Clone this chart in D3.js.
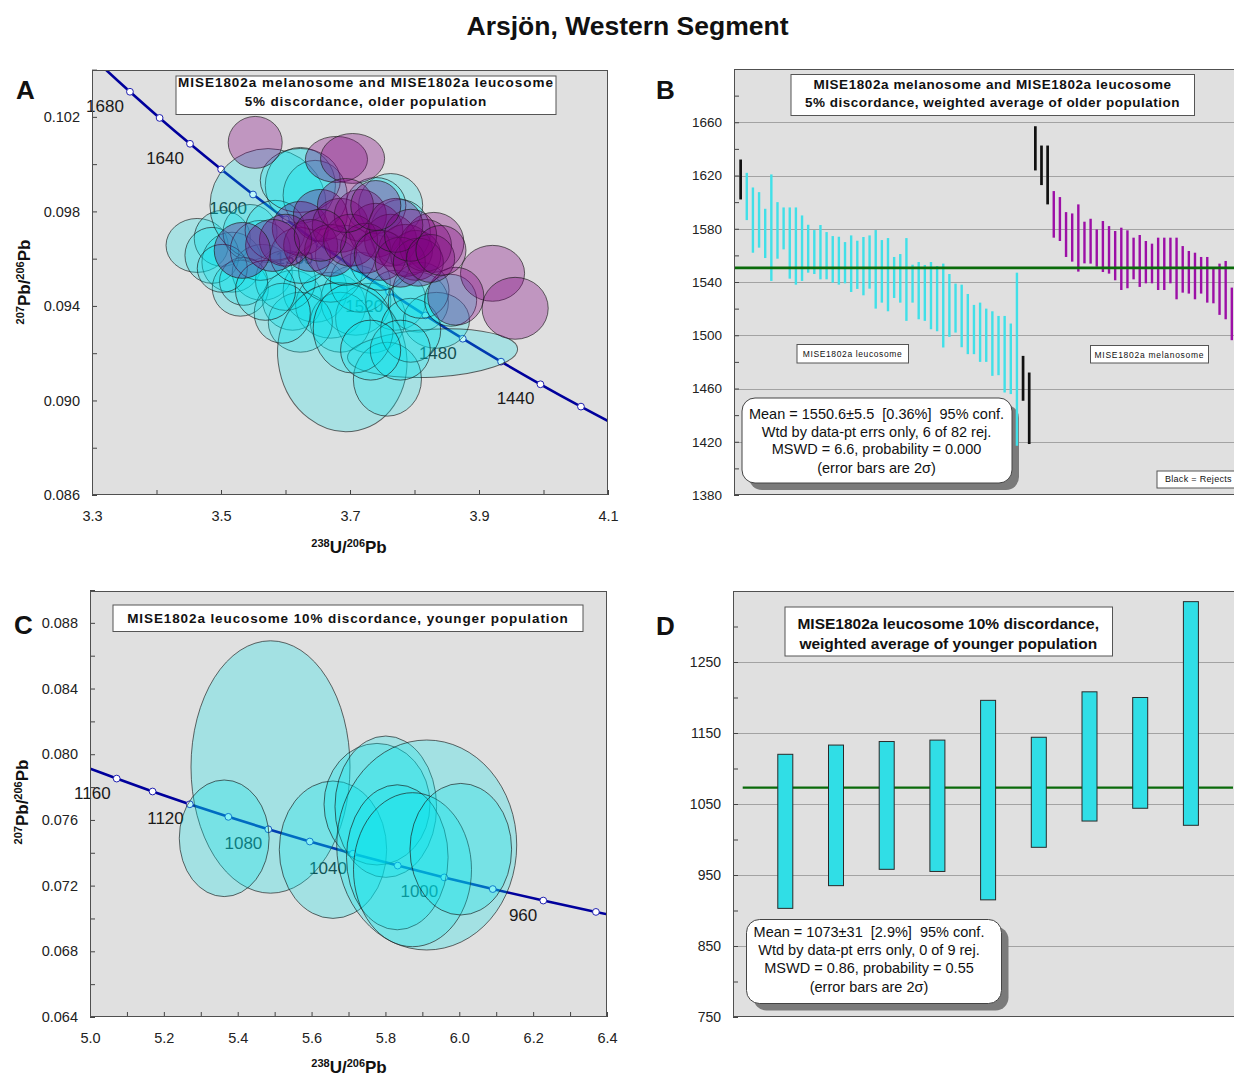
<!DOCTYPE html>
<html>
<head>
<meta charset="utf-8">
<title>Arsjön, Western Segment</title>
<script src="https://cdn.jsdelivr.net/npm/d3@7"></script>
<style>
  body { margin: 0; background: #fff; }
  svg { display: block; font-family: Arial, "Liberation Sans", sans-serif; }
</style>
</head>
<body>
<svg id="chart" width="1234" height="1076"></svg>
<script>
// ---------------- data ----------------
// concordia reference points, panel A (age Ma, 238U/206Pb, 207Pb/206Pb)
const concAgesA = [1720, 1700, 1680, 1660, 1640, 1620, 1600, 1580, 1560, 1540, 1520, 1500, 1480, 1460, 1440, 1420, 1400];
const concXA = [3.27014, 3.31389, 3.35884, 3.40482, 3.45192, 3.50019, 3.54967, 3.60041, 3.65246, 3.70587, 3.76071, 3.81698, 3.87480, 3.93420, 3.99529, 4.05808, 4.12265];
const concYA = [0.105324, 0.104186, 0.103062, 0.101955, 0.100860, 0.099781, 0.098716, 0.097665, 0.096627, 0.095604, 0.094594, 0.093598, 0.092613, 0.091643, 0.090685, 0.089740, 0.088807];
const concLabelsA = [1680, 1640, 1600, 1560, 1520, 1480, 1440];

// concordia reference points, panel C
const concAgesC = [1180, 1160, 1140, 1120, 1100, 1080, 1060, 1040, 1020, 1000, 980, 960, 940, 920];
const concXC = [4.97829, 5.07226, 5.16946, 5.27021, 5.37458, 5.48288, 5.59519, 5.71194, 5.83322, 5.95933, 6.09062, 6.22743, 6.37000, 6.51890];
const concYC = [0.079314, 0.078517, 0.077731, 0.076954, 0.076188, 0.075431, 0.074685, 0.073947, 0.073219, 0.072500, 0.071790, 0.071090, 0.070398, 0.069717];
const concLabelsC = [1160, 1120, 1080, 1040, 1000, 960];

// error ellipses: [238U/206Pb, 207Pb/206Pb, half-width x, half-height y, tilt deg]
const leucoEllipsesA = [
  [3.463, 0.09656, 0.0482, 0.001141], [3.502, 0.09686, 0.0435, 0.001183], [3.517, 0.09585, 0.0466, 0.001268],
  [3.486, 0.09614, 0.0419, 0.001183], [3.545, 0.09711, 0.0419, 0.001183], [3.564, 0.09542, 0.0466, 0.001183],
  [3.530, 0.09475, 0.0435, 0.001183], [3.573, 0.09825, 0.0901, 0.002408], [3.623, 0.09910, 0.0544, 0.001606],
  [3.646, 0.09868, 0.0497, 0.001479], [3.763, 0.09825, 0.0497, 0.001352], [3.778, 0.09711, 0.0466, 0.001394],
  [3.611, 0.09424, 0.0466, 0.001268], [3.646, 0.09466, 0.0497, 0.001352], [3.670, 0.09403, 0.0544, 0.001394],
  [3.709, 0.09424, 0.0544, 0.001479], [3.732, 0.09348, 0.0544, 0.001479], [3.685, 0.09331, 0.0466, 0.001268],
  [3.623, 0.09331, 0.0497, 0.001268], [3.600, 0.09508, 0.0466, 0.001268], [3.670, 0.09551, 0.0497, 0.001352],
  [3.716, 0.09500, 0.0466, 0.001268], [3.771, 0.09424, 0.0466, 0.001268], [3.806, 0.09416, 0.0466, 0.001268],
  [3.834, 0.09339, 0.0513, 0.001183], [3.688, 0.09183, 0.0994, 0.003169, -12], [3.828, 0.09200, 0.1320, 0.001014, -3],
  [3.758, 0.09090, 0.0528, 0.001563], [3.705, 0.09306, 0.0621, 0.001901], [3.794, 0.09297, 0.0466, 0.001352],
  [3.595, 0.09369, 0.0435, 0.001268], [3.535, 0.09504, 0.0373, 0.001014], [3.502, 0.09559, 0.0388, 0.001014],
  [3.561, 0.09635, 0.0466, 0.001268], [3.584, 0.09720, 0.0466, 0.001268], [3.569, 0.09466, 0.0466, 0.001268],
  [3.747, 0.09593, 0.0466, 0.001268], [3.693, 0.09614, 0.0466, 0.001268], [3.623, 0.09614, 0.0466, 0.001183],
  [3.623, 0.09931, 0.0621, 0.001352], [3.740, 0.09825, 0.0466, 0.001183], [3.810, 0.09466, 0.0435, 0.001183],
  [3.778, 0.09213, 0.0466, 0.001268], [3.732, 0.09213, 0.0466, 0.001268], [3.856, 0.09424, 0.0404, 0.001099]
];
const melanoEllipsesA = [
  [3.553, 0.10092, 0.0419, 0.001099], [3.679, 0.10020, 0.0482, 0.000972], [3.704, 0.10024, 0.0497, 0.001056],
  [3.830, 0.09669, 0.0466, 0.001268], [3.921, 0.09538, 0.0497, 0.001183], [3.956, 0.09390, 0.0513, 0.001310],
  [3.864, 0.09441, 0.0435, 0.001225], [3.623, 0.09728, 0.0435, 0.001141], [3.654, 0.09783, 0.0419, 0.001099],
  [3.685, 0.09741, 0.0435, 0.001141], [3.716, 0.09783, 0.0404, 0.001099], [3.740, 0.09720, 0.0419, 0.001141],
  [3.763, 0.09678, 0.0404, 0.001099], [3.786, 0.09635, 0.0419, 0.001099], [3.802, 0.09614, 0.0388, 0.001056],
  [3.817, 0.09656, 0.0404, 0.001099], [3.639, 0.09656, 0.0419, 0.001099], [3.670, 0.09635, 0.0404, 0.001099],
  [3.701, 0.09678, 0.0419, 0.001099], [3.724, 0.09644, 0.0388, 0.001056], [3.747, 0.09614, 0.0404, 0.001056],
  [3.778, 0.09585, 0.0388, 0.001056], [3.806, 0.09585, 0.0388, 0.001014], [3.600, 0.09678, 0.0404, 0.001099],
  [3.580, 0.09656, 0.0419, 0.001099], [3.693, 0.09825, 0.0435, 0.001141], [3.771, 0.09741, 0.0419, 0.001141],
  [3.794, 0.09699, 0.0404, 0.001099], [3.825, 0.09601, 0.0373, 0.001014], [3.841, 0.09635, 0.0388, 0.001056],
  [3.654, 0.09699, 0.0404, 0.001099], [3.740, 0.09825, 0.0388, 0.001056], [3.533, 0.09635, 0.0435, 0.001183]
];
const leucoEllipsesC = [
  [5.4888, 0.079223, 0.2153, 0.007684], [5.3634, 0.074881, 0.1216, 0.003550], [5.6580, 0.074187, 0.1454, 0.004183],
  [5.7772, 0.076957, 0.1435, 0.003702], [5.8010, 0.076805, 0.1376, 0.004305], [5.9118, 0.074473, 0.2437, 0.006393],
  [5.8321, 0.073724, 0.1376, 0.004415], [5.8733, 0.072969, 0.1598, 0.004689], [6.0041, 0.074217, 0.1376, 0.004007]
];

// weighted-average bars, panel B: [age high, age low, rejected]
const leucoBarsB = [
  [1632, 1602, 1], [1622, 1586.5, 0], [1611, 1562, 0], [1607.5, 1565.8, 0], [1595, 1558, 0], [1620.8, 1540.8, 0],
  [1600, 1557.5, 0], [1596, 1564.5, 0], [1596, 1542.5, 0], [1596, 1538, 0], [1590, 1540.8, 0], [1583, 1547, 0],
  [1579, 1546, 0], [1582.8, 1542, 0], [1577.5, 1542, 0], [1574.5, 1539.5, 0], [1574, 1538, 0], [1570, 1539, 0],
  [1575, 1532.5, 0], [1571, 1534.8, 0], [1573.8, 1530, 0], [1575, 1535, 0], [1579, 1520, 0], [1571.5, 1524.5, 0],
  [1573, 1518, 0], [1558.8, 1528, 0], [1561, 1524.5, 0], [1573, 1510.8, 0], [1553, 1524.5, 0], [1555, 1512, 0],
  [1552.8, 1510.8, 0], [1555, 1504.5, 0], [1552, 1503, 0], [1553.8, 1490.8, 0], [1546, 1498.8, 0], [1538.8, 1502, 0],
  [1538, 1491, 0], [1531, 1485.8, 0], [1522.8, 1485.8, 0], [1524.5, 1480, 0], [1520, 1480, 0], [1518, 1469.5, 0],
  [1514.5, 1470, 0], [1514.5, 1457, 0], [1508.8, 1455.8, 0], [1547, 1417, 0], [1484.5, 1450.8, 1], [1472, 1418.3, 1]
];
const melanoBarsB = [
  [1657, 1623.8, 1], [1642.5, 1612.8, 1], [1642.5, 1598.3, 1], [1608.3, 1573.3, 0], [1603.8, 1570.8, 0], [1592.5, 1558.8, 0],
  [1591.5, 1555.3, 0], [1598.3, 1547.8, 0], [1585.3, 1554, 0], [1587.5, 1553.8, 0], [1579.5, 1551.5, 0], [1585.8, 1547.5, 0],
  [1582, 1546.3, 0], [1578.3, 1541.3, 0], [1580.8, 1534, 0], [1578.8, 1535.3, 0], [1573.3, 1542, 0], [1575.3, 1536.3, 0],
  [1570.8, 1539, 0], [1568.8, 1539, 0], [1573.3, 1534, 0], [1573.3, 1534, 0], [1573.3, 1539, 0], [1573.3, 1527, 0],
  [1567, 1532, 0], [1563.3, 1531.3, 0], [1562, 1527, 0], [1558.8, 1531.3, 0], [1558.8, 1524.5, 0], [1550.3, 1524, 0],
  [1553.8, 1515.3, 0], [1555.8, 1512, 0], [1535.8, 1496.3, 0], [1530, 1492, 0]
];
const meanB = 1550.6;

// weighted-average bars, panel D: [age high, age low]
const barsD = [[1120, 903], [1133, 935], [1138, 958], [1140, 955], [1196, 915], [1144, 989], [1208, 1026], [1200, 1044], [1335, 1020]];
const meanD = 1073;

// tick values
const xTicksA = [3.3, 3.5, 3.7, 3.9, 4.1];
const yTicksA = [0.086, 0.090, 0.094, 0.098, 0.102];
const xTicksC = [5.0, 5.2, 5.4, 5.6, 5.8, 6.0, 6.2, 6.4];
const yTicksC = [0.064, 0.068, 0.072, 0.076, 0.080, 0.084, 0.088];
const yTicksB = [1380, 1420, 1460, 1500, 1540, 1580, 1620, 1660];
const yTicksD = [750, 850, 950, 1050, 1150, 1250];

const statsB = ["Mean = 1550.6\u00b15.5  [0.36%]  95% conf.", "Wtd by data-pt errs only, 6 of 82 rej.", "MSWD = 6.6, probability = 0.000", "(error bars are 2\u03c3)"];
const statsD = ["Mean = 1073\u00b131  [2.9%]  95% conf.", "Wtd by data-pt errs only, 0 of 9 rej.", "MSWD = 0.86, probability = 0.55", "(error bars are 2\u03c3)"];

// ---------------- drawing ----------------
const svg = d3.select("#chart");
svg.append("rect").attr("width", 1234).attr("height", 1076).attr("fill", "#fff");
const defs = svg.append("defs");

const BG = "#e0e0e0", FRAME = "#505050", CYAN = "#00e4eb", PURPLE = "#800080";

svg.append("text").attr("x", 627.5).attr("y", 35).attr("text-anchor", "middle")
  .attr("font-size", 26.5).attr("font-weight", "bold").attr("fill", "#111")
  .text("Arsj\u00f6n, Western Segment");

function panelLetter(x, y, s) {
  svg.append("text").attr("x", x).attr("y", y).attr("font-size", 26).attr("font-weight", "bold").attr("fill", "#111").text(s);
}
panelLetter(16, 99, "A");
panelLetter(656, 99, "B");
panelLetter(14, 634, "C");
panelLetter(656, 635, "D");

function plotBg(p) {
  svg.append("rect").attr("x", p.l).attr("y", p.t).attr("width", p.r - p.l).attr("height", p.b - p.t).attr("fill", BG);
}
function plotFrame(p) {
  svg.append("rect").attr("x", p.l + 0.5).attr("y", p.t + 0.5).attr("width", p.r - p.l - 1).attr("height", p.b - p.t - 1)
    .attr("fill", "none").attr("stroke", FRAME).attr("stroke-width", 1);
}
function clipFor(id, p) {
  defs.append("clipPath").attr("id", id).append("rect")
    .attr("x", p.l).attr("y", p.t).attr("width", p.r - p.l).attr("height", p.b - p.t);
}

// minor ticks inside the frame + labelled major ticks outside
function axes(p, x, y, o) {
  if (o.xMinor) {
    const g = svg.append("g").attr("transform", `translate(0,${p.b})`)
      .call(d3.axisBottom(x).tickValues(o.xMinor).tickSize(-5).tickFormat(""));
    g.select(".domain").remove();
    g.selectAll("line").attr("stroke", "#444");
  }
  if (o.xMajor) {
    const g = svg.append("g").attr("transform", `translate(0,${p.b})`)
      .call(d3.axisBottom(x).tickValues(o.xMajor).tickSize(0).tickPadding(16).tickFormat(o.xFmt));
    g.select(".domain").remove();
    g.attr("font-size", null).attr("font-family", null);
    g.selectAll("text").attr("font-size", o.fs).attr("fill", "#222");
  }
  const gy = svg.append("g").attr("transform", `translate(${p.l},0)`)
    .call(d3.axisLeft(y).tickValues(o.yMinor).tickSize(-5).tickFormat(""));
  gy.select(".domain").remove();
  gy.selectAll("line").attr("stroke", "#444");
  const gl = svg.append("g").attr("transform", `translate(${p.l},0)`)
    .call(d3.axisLeft(y).tickValues(o.yMajor).tickSize(0).tickPadding(12).tickFormat(o.yFmt));
  gl.select(".domain").remove();
  gl.attr("font-size", null).attr("font-family", null);
  gl.selectAll("text").attr("font-size", o.fs).attr("fill", "#222");
}

function ratioTitle(x, y, rotate, sup1, b1, sup2, b2) {
  const t = svg.append("text").attr("text-anchor", "middle").attr("font-weight", "bold").attr("fill", "#111")
    .attr("transform", `translate(${x},${y})` + (rotate ? " rotate(-90)" : ""));
  t.append("tspan").attr("font-size", 11).attr("dy", -6).text(sup1);
  t.append("tspan").attr("font-size", 17).attr("dy", 6).text(b1);
  t.append("tspan").attr("font-size", 11).attr("dy", -6).text(sup2);
  t.append("tspan").attr("font-size", 17).attr("dy", 6).text(b2);
}

function titleBox(x0, y0, x1, y1, lines) {
  svg.append("rect").attr("x", x0 + 0.5).attr("y", y0 + 0.5).attr("width", x1 - x0).attr("height", y1 - y0)
    .attr("fill", "#fff").attr("stroke", "#555").attr("stroke-width", 1);
  lines.forEach(l => {
    svg.append("text").attr("x", (x0 + x1) / 2).attr("y", l.y).attr("text-anchor", "middle")
      .attr("font-size", l.fs).attr("font-weight", l.bold ? "bold" : "normal").attr("fill", "#111")
      .attr("textLength", l.len).attr("lengthAdjust", "spacing").text(l.t);
  });
}

function statsBox(x0, y0, x1, y1, lines, baselines, cx) {
  svg.append("rect").attr("x", x0 + 7).attr("y", y0 + 7).attr("width", x1 - x0).attr("height", y1 - y0)
    .attr("rx", 13).attr("fill", "#7a7a7a");
  svg.append("rect").attr("x", x0).attr("y", y0).attr("width", x1 - x0).attr("height", y1 - y0)
    .attr("rx", 13).attr("fill", "#fff").attr("stroke", "#444").attr("stroke-width", 1);
  lines.forEach((s, i) => {
    svg.append("text").attr("x", cx).attr("y", baselines[i]).attr("text-anchor", "middle")
      .attr("font-size", 14.5).attr("fill", "#111").style("white-space", "pre").text(s);
  });
}

function drawConcordia(clipId, x, y, ages, xs, ys, labelAges) {
  const pts = ages.map((a, i) => ({ age: a, x: xs[i], y: ys[i] }));
  const g = svg.append("g").attr("clip-path", `url(#${clipId})`);
  g.append("path").datum(pts)
    .attr("d", d3.line().x(d => x(d.x)).y(d => y(d.y)).curve(d3.curveCatmullRom))
    .attr("fill", "none").attr("stroke", "#00009c").attr("stroke-width", 2.6);
  g.selectAll(null).data(pts).enter().append("circle")
    .attr("cx", d => x(d.x)).attr("cy", d => y(d.y)).attr("r", 3.4)
    .attr("fill", "#fff").attr("stroke", "#2020b0").attr("stroke-width", 1);
  svg.selectAll(null).data(pts.filter(d => labelAges.includes(d.age))).enter().append("text")
    .attr("x", d => x(d.x) - 6).attr("y", d => y(d.y) + 20).attr("text-anchor", "end")
    .attr("font-size", 17).attr("fill", "#1a1a1a").text(d => d.age);
}

function drawEllipses(clipId, rows, x, y, fill, alpha) {
  svg.append("g").attr("clip-path", `url(#${clipId})`)
    .selectAll(null).data(rows).enter().append("ellipse")
    .attr("cx", d => x(d[0])).attr("cy", d => y(d[1]))
    .attr("rx", d => x(d[0] + d[2]) - x(d[0]))
    .attr("ry", d => y(d[1]) - y(d[1] + d[3]))
    .attr("transform", d => d[4] ? `rotate(${d[4]},${x(d[0])},${y(d[1])})` : null)
    .attr("fill", fill).attr("fill-opacity", alpha)
    .attr("stroke", "#1a1a1a").attr("stroke-opacity", 0.65).attr("stroke-width", 1);
}

// ---------- Panel A ----------
const pA = { l: 92, t: 70, r: 608, b: 495 };
const xA = d3.scaleLinear().domain([3.3, 4.1]).range([pA.l, pA.r]);
const yA = d3.scaleLinear().domain([0.086, 0.104]).range([pA.b, 69.6]);
clipFor("clipA", pA);
plotBg(pA);
drawConcordia("clipA", xA, yA, concAgesA, concXA, concYA, concLabelsA);
drawEllipses("clipA", leucoEllipsesA, xA, yA, CYAN, 0.25);
drawEllipses("clipA", melanoEllipsesA, xA, yA, PURPLE, 0.33);
axes(pA, xA, yA, {
  xMinor: d3.range(3.3, 4.1001, 0.1), xMajor: xTicksA, xFmt: d3.format(".1f"),
  yMinor: d3.range(0.086, 0.1041, 0.002), yMajor: yTicksA, yFmt: d3.format(".3f"), fs: 14.5
});
plotFrame(pA);
titleBox(175.5, 75.5, 555.5, 114, [
  { t: "MISE1802a melanosome and MISE1802a leucosome", y: 87, fs: 13.5, bold: true, len: 375 },
  { t: "5% discordance, older population", y: 106.3, fs: 13.5, bold: true, len: 241.7 }
]);
ratioTitle(349, 553, false, "238", "U/", "206", "Pb");
ratioTitle(30, 282, true, "207", "Pb/", "206", "Pb");

// ---------- Panel B ----------
const pB = { l: 734, t: 69, r: 1250, b: 495 };
const xB = d3.scaleLinear().domain([0, 83]).range([734.5, 1244.1]);
const yB = d3.scaleLinear().domain([1380, 1700]).range([pB.b, pB.t]);
plotBg(pB);
svg.append("g").selectAll(null).data(yTicksB.slice(1)).enter().append("line")
  .attr("x1", pB.l).attr("x2", pB.r).attr("y1", d => Math.round(yB(d)) + 0.5).attr("y2", d => Math.round(yB(d)) + 0.5)
  .attr("stroke", "#a3a3a3").attr("stroke-width", 1);
statsBox(742, 398, 1012, 483, statsB, [419.3, 437, 454.3, 473.3], 876.5);
const barsB = leucoBarsB.map((d, i) => ({ i: i + 1, hi: d[0], lo: d[1], rej: d[2], grp: "leuco" }))
  .concat(melanoBarsB.map((d, i) => ({ i: leucoBarsB.length + i + 1, hi: d[0], lo: d[1], rej: d[2], grp: "melano" })));
svg.append("g").selectAll(null).data(barsB).enter().append("rect")
  .attr("x", d => xB(d.i) - (d.rej ? 1.35 : 1.2)).attr("width", d => d.rej ? 2.7 : 2.4)
  .attr("y", d => yB(d.hi)).attr("height", d => yB(d.lo) - yB(d.hi))
  .attr("fill", d => d.rej ? "#111" : (d.grp === "leuco" ? "#40e0e8" : "#9c0fa6"));
svg.append("line").attr("x1", xB(0.08)).attr("x2", xB(83)).attr("y1", yB(meanB)).attr("y2", yB(meanB))
  .attr("stroke", "#0a6a0a").attr("stroke-width", 2.6);
axes(pB, xB, yB, {
  yMinor: d3.range(1380, 1701, 20), yMajor: yTicksB, yFmt: d3.format("d"), fs: 13.5
});
plotFrame(pB);
titleBox(790.5, 74, 1194, 115, [
  { t: "MISE1802a melanosome and MISE1802a leucosome", y: 89, fs: 13.5, bold: true, len: 357.7 },
  { t: "5% discordance, weighted average of older population", y: 107.3, fs: 13.5, bold: true, len: 374.3 }
]);
titleBox(796.5, 344, 908, 362.5, [{ t: "MISE1802a leucosome", y: 357.3, fs: 8.5, len: 99 }]);
titleBox(1090, 345, 1208, 362.5, [{ t: "MISE1802a melanosome", y: 357.8, fs: 8.5, len: 109 }]);
titleBox(1156.5, 470.5, 1240, 487.5, [{ t: "Black = Rejects", y: 482.3, fs: 9, len: 66.7 }]);

// ---------- Panel C ----------
const pC = { l: 90, t: 591, r: 607, b: 1017 };
const xC = d3.scaleLinear().domain([5.0, 6.4]).range([pC.l, pC.r]);
const yC = d3.scaleLinear().domain([0.064, 0.090]).range([pC.b, 590]);
clipFor("clipC", pC);
plotBg(pC);
drawConcordia("clipC", xC, yC, concAgesC, concXC, concYC, concLabelsC);
drawEllipses("clipC", leucoEllipsesC, xC, yC, CYAN, 0.27);
axes(pC, xC, yC, {
  xMinor: d3.range(5.0, 6.4001, 0.1), xMajor: xTicksC, xFmt: d3.format(".1f"),
  yMinor: d3.range(0.064, 0.0901, 0.002), yMajor: yTicksC, yFmt: d3.format(".3f"), fs: 14.5
});
plotFrame(pC);
titleBox(112.5, 604.5, 582.5, 631, [
  { t: "MISE1802a leucosome 10% discordance, younger population", y: 623.3, fs: 13.5, bold: true, len: 440.6 }
]);
ratioTitle(349, 1073, false, "238", "U/", "206", "Pb");
ratioTitle(28, 802, true, "207", "Pb/", "206", "Pb");

// ---------- Panel D ----------
const pD = { l: 733, t: 591, r: 1250, b: 1017 };
const xD = d3.scaleLinear().domain([0, 10]).range([734.6, 1241.6]);
const yD = d3.scaleLinear().domain([750, 1350]).range([pD.b, pD.t]);
plotBg(pD);
svg.append("g").selectAll(null).data(yTicksD.slice(1)).enter().append("line")
  .attr("x1", pD.l).attr("x2", pD.r).attr("y1", d => Math.round(yD(d)) + 0.5).attr("y2", d => Math.round(yD(d)) + 0.5)
  .attr("stroke", "#a3a3a3").attr("stroke-width", 1);
svg.append("line").attr("x1", xD(0.16)).attr("x2", xD(9.83)).attr("y1", yD(meanD)).attr("y2", yD(meanD))
  .attr("stroke", "#0a6a0a").attr("stroke-width", 2.4);
svg.append("g").selectAll(null).data(barsD).enter().append("rect")
  .attr("x", (d, i) => xD(i + 1) - 7.5).attr("width", 15)
  .attr("y", d => yD(d[0])).attr("height", d => yD(d[1]) - yD(d[0]))
  .attr("fill", "#30dee6").attr("stroke", "#2a2a2a").attr("stroke-width", 1);
axes(pD, xD, yD, {
  yMinor: d3.range(750, 1351, 50), yMajor: yTicksD, yFmt: d3.format("d"), fs: 14
});
plotFrame(pD);
titleBox(784.5, 606.5, 1112, 655.5, [
  { t: "MISE1802a leucosome 10% discordance,", y: 629.3, fs: 15.5, bold: true, len: 301.6 },
  { t: "weighted average of younger population", y: 648.7, fs: 15.5, bold: true, len: 297.7 }
]);
statsBox(746.5, 919.5, 1001.5, 1003.5, statsD, [937.3, 955, 972.7, 991.7], 869);
</script>
</body>
</html>
